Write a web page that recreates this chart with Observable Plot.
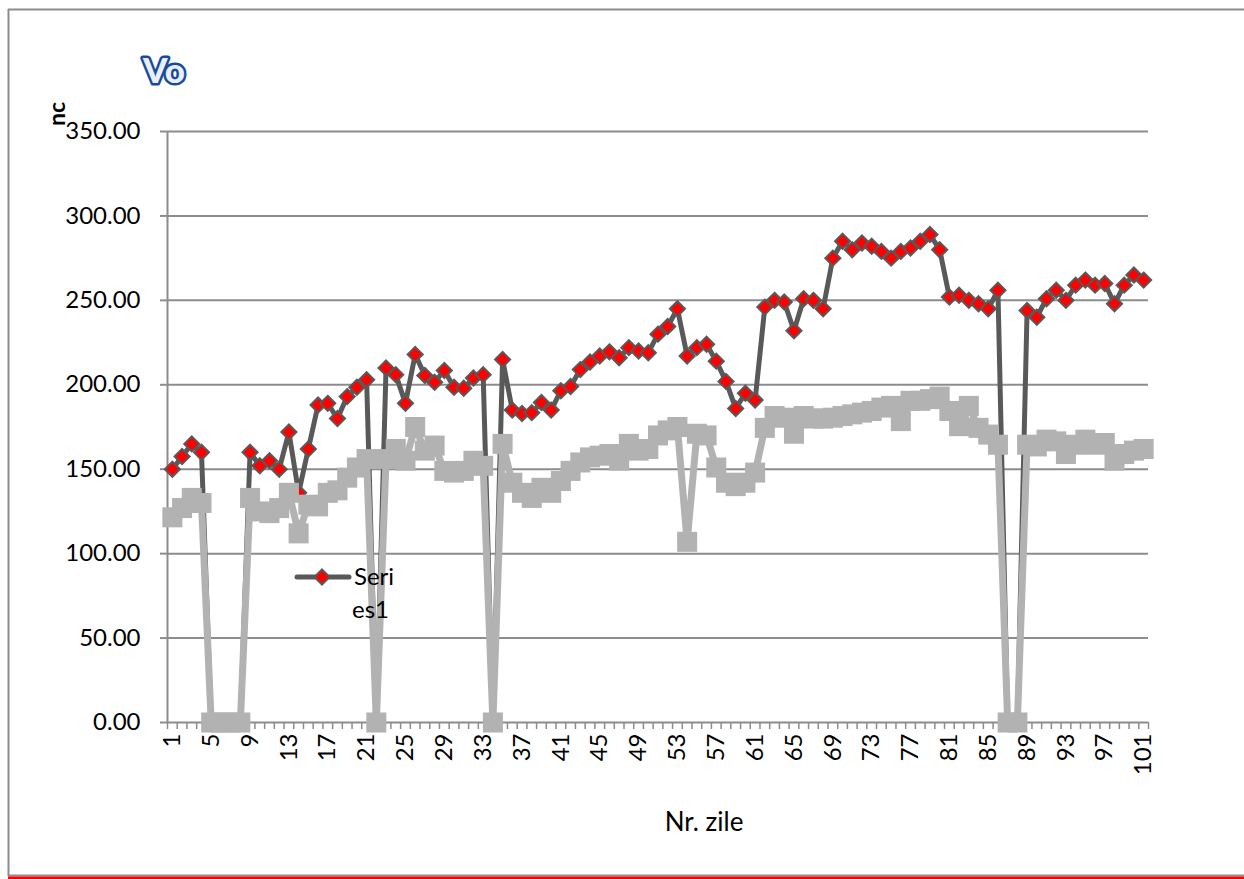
<!DOCTYPE html>
<html><head><meta charset="utf-8">
<script src="https://cdn.jsdelivr.net/npm/d3@7"></script>
<script src="https://cdn.jsdelivr.net/npm/@observablehq/plot@0.6"></script>
<style>
html,body{margin:0;padding:0;background:#fff;overflow:hidden;}
#wrap{position:relative;width:1244px;height:879px;overflow:hidden;background:#fff;}
#wrap svg{position:absolute;left:0;top:0;}
</style></head><body><div id="wrap"></div>
<script>
// ---- data ----
const days = [1,2,3,4,5,6,7,8,9,10,11,12,13,14,15,16,17,18,19,20,
  21,22,23,24,25,26,27,28,29,30,31,32,33,34,35,36,37,38,39,40,
  41,42,43,44,45,46,47,48,49,50,51,52,53,54,55,56,57,58,59,60,
  61,62,63,64,65,66,67,68,69,70,71,72,73,74,75,76,77,78,79,80,
  81,82,83,84,85,86,87,88,89,90,91,92,93,94,95,96,97,98,99,100,101];
const series1 = [150,157.5,165,160,0,0,0,0,160,152,155,150,172,136,162,188,189,180,193,198.5,
  203,0,210,206,189,218,205.5,201.5,208.5,198.5,198,204,206,0,215,185,183,183.5,189.5,185,
  196.5,199,209,213.5,217,219.5,216,222,220,219,230,234.5,245,217,222,224,214,202,186,195,
  191,246,250,249,232,251,250,245,275,285,280,284,282,279,275,279,281,285,289,280,
  252,253,250,248,245,256,0,0,244,240,251,256,250,259,262,259,260,248,259,265,262];
const series2 = [121.5,127,133,130,0,0,0,0,133,125,124,127,136,112,129,128,136,137.5,145,151,
  156,0,156,162,155,175,161,164,149,148,149,155,152,0,165,142,136,133,139,136,
  143,149,154,157,158,159,155,165,161,162,170,173,175,107,171,170,151,142,140,142,
  148,174.5,181.5,180.5,171,181.5,180,180,180.5,181.5,182.5,183.5,184.5,186.5,187.5,178.5,190.5,190.5,191.5,193,
  184.5,175.5,187.5,174.5,170.5,164.5,0,0,164.5,163.5,167.5,166.5,159,164.5,167.5,164.5,165.5,155,159,161,162];
const xTickLabels = [1,5,9,13,17,21,25,29,33,37,41,45,49,53,57,61,65,69,73,77,81,85,89,93,97,101];
const yTicks = [0,50,100,150,200,250,300,350];
const legendLines = ["Seri","es1"];
const titleText = "Vo";
const yTitle = "nc";
const xTitle = "Nr. zile";

// ---- build ----
const data1 = days.map((d,i)=>({day:d, value:series1[i]}));
const data2 = days.map((d,i)=>({day:d, value:series2[i]}));
const boundaries = days.map(d=>d-0.5).concat([days[days.length-1]+0.5]);
const dark="#595959", gray="#b2b2b2", grid="#8c8c8c";
const font = "Lato, 'Open Sans', sans-serif";

const chart = Plot.plot({
  width:1244, height:879,
  marginLeft:167, marginRight:96, marginTop:131, marginBottom:157,
  x:{domain:[days[0]-0.5, days[days.length-1]+0.5]},
  y:{domain:[0,350]},
  style:{fontFamily:font, fontSize:"24px", background:"transparent", overflow:"visible", color:"black"},
  marks:[
    Plot.gridY(yTicks,{stroke:grid, strokeOpacity:1, strokeWidth:2}),
    Plot.ruleX([days[0]-0.5],{stroke:grid, strokeWidth:2}),
    Plot.axisY(yTicks,{tickSize:7, tickPadding:20, tickFormat:d=>d.toFixed(2), stroke:grid, strokeWidth:2, fill:"black", fontSize:24, label:null}),
    Plot.axisX(boundaries,{tickSize:7, tickFormat:()=>"", stroke:grid, strokeWidth:1.5, label:null}),
    Plot.text(xTickLabels,{x:d=>d, frameAnchor:"bottom", text:d=>String(d), rotate:-90, textAnchor:"end", lineAnchor:"middle", dy:11, fontSize:24, fill:"black"}),
    Plot.line(data1,{x:"day", y:"value", stroke:dark, strokeWidth:5}),
    Plot.dot(data1,{x:"day", y:"value", symbol:"diamond2", r:6.8, fill:"#ff0000", stroke:dark, strokeWidth:2}),
    Plot.line(data2,{x:"day", y:"value", stroke:gray, strokeWidth:7}),
    Plot.dot(data2,{x:"day", y:"value", symbol:"square", r:11.3, fill:gray, stroke:"none"})
  ]
});
const wrap = document.getElementById("wrap");
wrap.appendChild(chart);

// ---- decorations overlay ----
const ov = d3.select(wrap).append("svg").attr("width",1244).attr("height",879)
  .style("pointer-events","none").style("font-family",font);
ov.append("line").attr("x1",8.5).attr("x2",8.5).attr("y1",9).attr("y2",876)
  .attr("stroke",grid).attr("stroke-width",2);
ov.append("line").attr("x1",8).attr("x2",1244).attr("y1",9.5).attr("y2",9.5)
  .attr("stroke",grid).attr("stroke-width",2);
ov.append("line").attr("x1",8).attr("x2",1244).attr("y1",875.5).attr("y2",875.5)
  .attr("stroke",grid).attr("stroke-width",2);
ov.append("line").attr("x1",8).attr("x2",1244).attr("y1",878).attr("y2",878)
  .attr("stroke","#ff0000").attr("stroke-width",3);
ov.append("text").attr("x",143).attr("y",83).text(titleText)
  .attr("font-size",35).attr("font-weight",900).attr("fill","#174a9e")
  .attr("stroke","#174a9e").attr("stroke-width",5).attr("stroke-linejoin","round");
ov.append("text").attr("x",143).attr("y",83).text(titleText)
  .attr("font-size",35).attr("font-weight",900).attr("fill","#e9eef8");
ov.append("text").attr("transform","translate(65,126) rotate(-90)").text(yTitle)
  .attr("font-size",23).attr("font-weight","bold").attr("fill","black");
ov.append("text").attr("x",704).attr("y",831).attr("text-anchor","middle").text(xTitle)
  .attr("font-size",26).attr("fill","black");
// legend
ov.append("line").attr("x1",297).attr("x2",349).attr("y1",577).attr("y2",577)
  .attr("stroke",dark).attr("stroke-width",5).attr("stroke-linecap","round");
ov.append("path").attr("transform","translate(322,577)")
  .attr("d", d3.symbol(d3.symbolDiamond2, 6.8*6.8*Math.PI)())
  .attr("fill","#ff0000").attr("stroke",dark).attr("stroke-width",2);
legendLines.forEach((t,i)=>{
  ov.append("text").attr("x", i===0 ? 354 : 352).attr("y", 585 + i*33).text(t)
    .attr("font-size",24).attr("fill","black");
});
</script></body></html>
